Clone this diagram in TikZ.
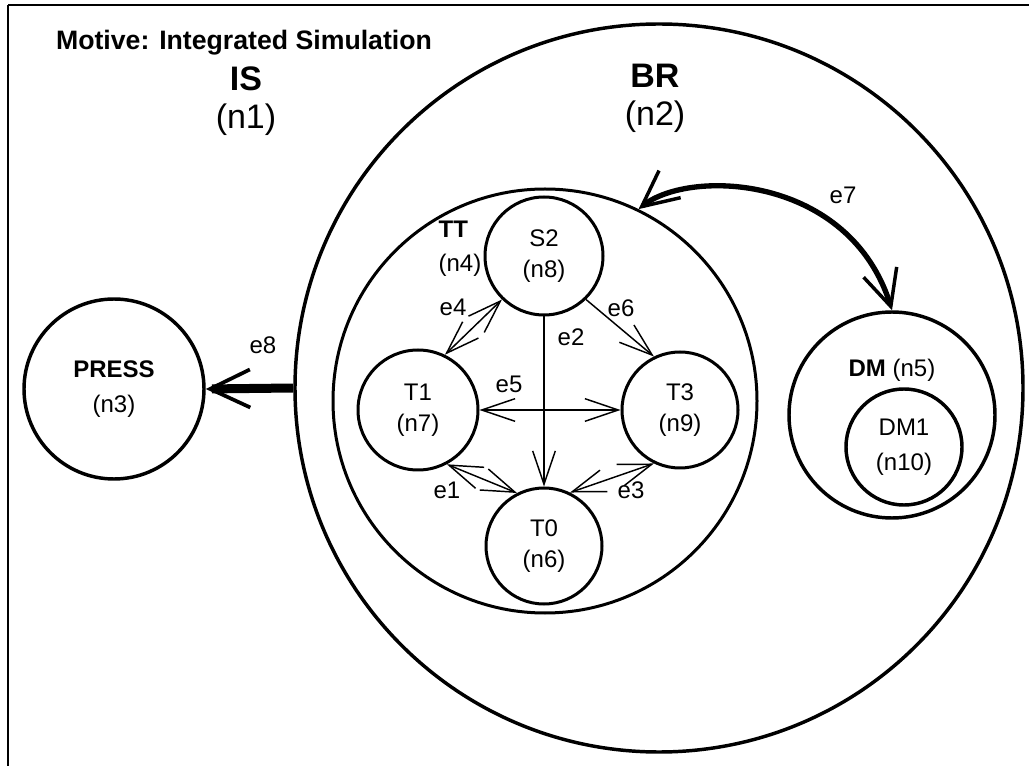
\documentclass[tikz,border=0pt]{standalone}
\usepackage{fontspec}
\setmainfont{Liberation Sans}
\usetikzlibrary{arrows.meta}

\tikzset{
  thinbarb/.tip={Straight Barb[length=25pt,width=17pt]},
  thickbarb/.tip={Straight Barb[length=27pt,width=26pt,line width=2.6pt]},
  heavybarb/.tip={Straight Barb[length=30pt,width=28.5pt,line width=2.8pt]},
  state/.style={circle,draw,line width=2.25pt,inner sep=0pt,minimum size=88.5pt,
    align=center,font=\fontsize{18}{23}\selectfont},
  ring/.style={circle,draw,line width=2.6pt,inner sep=0pt},
  lbl/.style={inner sep=0pt,font=\fontsize{18}{22}\selectfont},
  headlbl/.style={inner sep=0pt,align=center,font=\fontsize{25.5}{28.5}\selectfont},
  edge/.style={line width=1.1pt},
}

\begin{document}
\begin{tikzpicture}[x=0.75pt,y=-0.75pt]
  \useasboundingbox (0,0) rectangle (1029,766);

  % frame of the outer region
  \coordinate (fTL) at (8,5);
  \coordinate (fTR) at (1029,5);
  \coordinate (fBL) at (8,766);
  \draw[line width=2.2pt] (fTL) -- (fTR);
  \draw[line width=1.6pt] (fTL) -- (fBL);

  % titles
  \node[inner sep=0pt,font=\bfseries\fontsize{20}{24}\selectfont] (title) at (244,43) {Motive: Integrated Simulation};
  \node[headlbl] (islbl) at (246,101) {\textbf{IS}\\(n1)};

  % BR region
  \node[ring,minimum size=546pt] (n2) at (659,388) {};
  \node[headlbl] (brlbl) at (655,98) {\textbf{BR}\\(n2)};

  % TT region with its states
  \node[circle,draw,line width=2.25pt,inner sep=0pt,minimum size=318pt] (n4) at (545,401) {};
  \node[lbl,align=left,font=\fontsize{18}{25.5}\selectfont] (ttlbl) at (460,249) {\textbf{TT}\\(n4)};

  \node[state] (n8) at (544,256) {S2\\(n8)};
  \node[state,minimum size=90pt] (n7) at (418,410) {T1\\(n7)};
  \node[state,minimum size=87pt] (n9) at (680,410) {T3\\(n9)};
  \node[state,minimum size=87pt] (n6) at (544,546) {T0\\(n6)};

  % PRESS
  \node[ring,minimum size=135pt,align=center,font=\fontsize{18}{26}\selectfont] (n3) at (114,389) {\textbf{PRESS}\\(n3)};

  % DM region
  \node[ring,minimum size=154.5pt] (n5) at (892,415) {};
  \node[lbl] (dmlbl) at (892,370) {\textbf{DM} (n5)};
  \node[ring,minimum size=87pt,align=center,font=\fontsize{18}{26}\selectfont] (n10) at (904,447) {DM1\\(n10)};

  % transitions inside TT
  \draw[edge,thinbarb-thinbarb] (n8.226) -- (n7.64);
  \draw[edge,-thinbarb] (n8.314) -- (n9.116);
  \draw[edge,-thinbarb] (n8) -- (n6);
  \draw[edge,thinbarb-thinbarb] (n7) -- (n9);
  \draw[edge,thinbarb-thinbarb] (n7.298) -- (n6.117);
  \draw[edge,thinbarb-thinbarb] (n9.244) -- (n6.64);

  \node[lbl] (e4) at (453,307) {e4};
  \node[lbl] (e6) at (621,308) {e6};
  \node[lbl] (e2) at (571,337) {e2};
  \node[lbl] (e5) at (509,384) {e5};
  \node[lbl] (e1) at (447,490) {e1};
  \node[lbl] (e3) at (631,490) {e3};

  % links between regions
  \draw[line width=4pt,thickbarb-thickbarb] (n4.64) .. controls (690,168) and (850,175) .. (n5.north);
  \draw[line width=6.75pt,-heavybarb] (n2.west) -- (n3.east);

  \node[lbl] (e7) at (843,195) {e7};
  \node[lbl] (e8) at (263,345) {e8};
\end{tikzpicture}
\end{document}
